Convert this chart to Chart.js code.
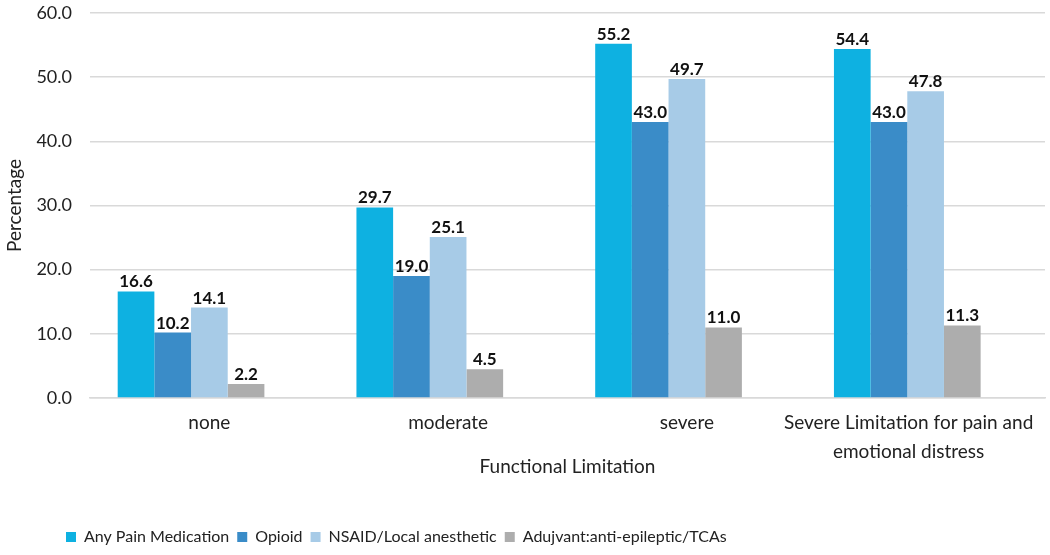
<!DOCTYPE html>
<html><head><meta charset="utf-8">
<script src="https://cdn.jsdelivr.net/npm/chart.js@4/dist/chart.umd.min.js"></script>
<style>html,body{margin:0;padding:0;background:#fff}#wrap{width:1050px;height:555px}</style>
</head><body><div id="wrap"><canvas id="c" width="1050" height="555"></canvas></div>
<script>
const categories = ["none", "moderate", "severe", ["Severe Limitation for pain and       ", "emotional distress       "]];
const seriesNames = ["Any Pain Medication", "Opioid", "NSAID/Local anesthetic", "Adujvant:anti-epileptic/TCAs"];
const anyPain = [16.6, 29.7, 55.2, 54.4];
const opioid = [10.2, 19.0, 43.0, 43.0];
const nsaid = [14.1, 25.1, 49.7, 47.8];
const adjuvant = [2.2, 4.5, 11.0, 11.3];
const emptySlot = [null, null, null, null];
const yTicks = [0, 10, 20, 30, 40, 50, 60];
const colors = ["#0EB1E1", "#3A8CC8", "#A7CBE7", "#ADADAD"];

const FONT = "Lato, 'Open Sans', sans-serif";

const labelPlugin = {
  id: 'valueLabels',
  afterDatasetsDraw(chart) {
    const ctx = chart.ctx;
    ctx.save();
    ctx.font = "bold 17px " + FONT;
    ctx.fillStyle = "#111";
    ctx.textAlign = "center";
    ctx.textBaseline = "bottom";
    chart.data.datasets.forEach((ds, i) => {
      if (i > 3) return;
      const meta = chart.getDatasetMeta(i);
      meta.data.forEach((bar, j) => {
        const v = ds.data[j];
        if (v == null) return;
        ctx.fillText(v.toFixed(1), bar.x, bar.y - 1);
      });
    });
    ctx.restore();
  }
};
const legendShift = {
  id: 'legendShift',
  afterLayout(chart) {
    if (chart.legend) { chart.legend.left += 58; chart.legend.right += 58; }
  }
};

const datasets = [anyPain, opioid, nsaid, adjuvant].map((d, i) => ({
  label: seriesNames[i], data: d, backgroundColor: colors[i],
  barPercentage: 1, categoryPercentage: 0.768
}));
datasets.push({label: '', data: emptySlot, backgroundColor: 'rgba(0,0,0,0)', barPercentage: 1, categoryPercentage: 0.768});

new Chart(document.getElementById('c'), {
  type: 'bar',
  data: { labels: categories, datasets },
  plugins: [labelPlugin, legendShift],
  options: {
    responsive: false, animation: false,
    layout: { padding: { left: 0, right: 5, top: 13, bottom: 0 } },
    plugins: {
      tooltip: { enabled: false },
      legend: {
        position: 'bottom', align: 'start',
        labels: {
          font: { family: FONT, size: 16 }, color: '#222',
          boxWidth: 10, boxHeight: 10, padding: 8,
          filter: (item) => item.text !== ''
        }
      }
    },
    scales: {
      x: {
        grid: { display: false, drawTicks: false },
        border: { display: true, color: '#D9D9D9', width: 1.5 },
        ticks: { font: { family: FONT, size: 19, lineHeight: 1.53 }, color: '#222', padding: 10, maxRotation: 0, minRotation: 0, autoSkip: false },
        title: { display: true, text: 'Functional Limitation', font: { family: FONT, size: 19 }, color: '#222', padding: { top: 0, bottom: 43 } },
        afterFit(s) { s.height = 123; s.paddingLeft = 0; s.paddingRight = 0; }
      },
      y: {
        min: 0, max: 60,
        afterBuildTicks(s) { s.ticks = yTicks.map(v => ({ value: v })); },
        grid: { color: '#D9D9D9', lineWidth: 1.5, drawTicks: false },
        border: { display: false },
        ticks: { font: { family: FONT, size: 18 }, color: '#222', padding: 18, callback: v => Number(v).toFixed(1) },
        title: { display: true, text: 'Percentage', font: { family: FONT, size: 19 }, color: '#222', padding: { top: 3, bottom: 0 } },
        afterFit(s) { s.width = 90; s.paddingTop = 0; s.paddingBottom = 0; }
      }
    }
  }
});
</script></body></html>
